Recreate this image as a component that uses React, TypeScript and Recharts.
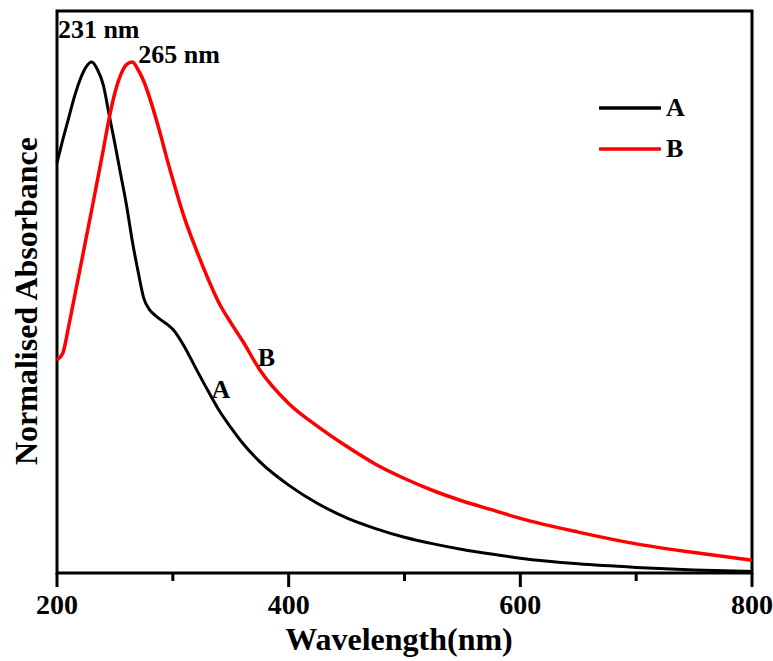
import React from 'react'
import {
  LineChart, Line, XAxis, YAxis, ReferenceArea, ReferenceDot, Legend,
} from 'recharts'

// wavelength grid (nm) shared by both spectra
const wavelengths = [
  200, 205, 210, 215, 220, 225, 230, 235, 240, 245, 250, 255, 260, 265, 270, 275, 280, 285, 290, 295, 300,
  310, 320, 330, 340, 350, 360, 375, 400, 425, 450, 475, 500, 525, 550, 575, 600, 650, 700, 750, 800,
]

const absA = [
  0.803, 0.848, 0.89, 0.932, 0.966, 0.99, 1.0, 0.985, 0.955, 0.897, 0.84, 0.78, 0.72, 0.65, 0.59, 0.537, 0.515, 0.504, 0.495, 0.487, 0.477,
  0.443, 0.4, 0.358, 0.318, 0.285, 0.255, 0.218, 0.172, 0.136, 0.108, 0.087, 0.07, 0.057, 0.046, 0.037, 0.029, 0.018, 0.011, 0.006, 0.003,
]

const absB = [
  0.417, 0.43, 0.482, 0.539, 0.596, 0.654, 0.711, 0.77, 0.829, 0.89, 0.94, 0.975, 0.995, 1.0, 0.985, 0.962, 0.93, 0.893, 0.853, 0.81, 0.77,
  0.695, 0.634, 0.578, 0.528, 0.49, 0.455, 0.398, 0.332, 0.287, 0.248, 0.213, 0.185, 0.161, 0.141, 0.124, 0.107, 0.08, 0.057, 0.04, 0.025,
]

const xTicks = [200, 300, 400, 500, 600, 700, 800]
const majorTicks = [200, 400, 600, 800]
const peaks = [
  { nm: 231, text: '231 nm', dx: -35, dy: -24 },
  { nm: 265, text: '265 nm', dx: 6, dy: 1 },
]

const Y_MAX = 1.1
const FONT = '"Liberation Serif", "Times New Roman", serif'

const data = wavelengths.map((nm, i) => ({ nm, A: absA[i], B: absB[i] }))

const WaveTick = (props: any) => {
  const { x, y, payload } = props
  const major = majorTicks.includes(payload.value)
  return (
    <g>
      <line x1={x} x2={x} y1={y} y2={y + (major ? 14 : 8)} stroke="#000" strokeWidth={3} />
      {major && (
        <text x={x} y={y + 41} textAnchor="middle" fontFamily={FONT} fontWeight="bold" fontSize={28} fill="#000">
          {payload.value}
        </text>
      )}
    </g>
  )
}

const textAt = (text: string, dx: number, dy: number, size = 26) => (props: any) => {
  const vb = props.viewBox || {}
  const cx = (vb.x ?? 0) + (vb.width ?? 0) / 2
  const cy = (vb.y ?? 0) + (vb.height ?? 0) / 2
  return (
    <text x={cx + dx} y={cy + dy} fontFamily={FONT} fontWeight="bold" fontSize={size} fill="#000">
      {text}
    </text>
  )
}

const LegendBox = () => (
  <div style={{ fontFamily: FONT, fontWeight: 'bold', fontSize: 26, color: '#000' }}>
    {[
      { name: 'A', color: '#000' },
      { name: 'B', color: '#ff0000' },
    ].map((s) => (
      <div key={s.name} style={{ display: 'flex', alignItems: 'center', height: 41 }}>
        <svg width={62} height={6} style={{ display: 'block' }}>
          <line x1={1} x2={61} y1={3} y2={3} stroke={s.color} strokeWidth={3.5} strokeLinecap="round" />
        </svg>
        <span style={{ marginLeft: 5, lineHeight: '26px' }}>{s.name}</span>
      </div>
    ))}
  </div>
)

export default function App() {
  const idxA = wavelengths.indexOf(330)
  const idxB = wavelengths.indexOf(375)
  return (
    <div style={{ position: 'absolute', left: 0, top: 0, background: '#fff' }}>
      <LineChart width={773} height={661} data={data} margin={{ top: 11, right: 21, bottom: 0, left: 0 }}>
        <XAxis
          dataKey="nm"
          type="number"
          domain={[200, 800]}
          ticks={xTicks}
          interval={0}
          height={88}
          axisLine={false}
          tickLine={false}
          tickSize={0}
          tickMargin={0}
          tick={<WaveTick />}
          label={{
            content: () => (
              <text x={399} y={650} textAnchor="middle" fontFamily={FONT} fontWeight="bold" fontSize={32} fill="#000">
                Wavelength(nm)
              </text>
            ),
          }}
        />
        <YAxis
          type="number"
          domain={[0, Y_MAX]}
          width={57}
          tick={false}
          tickLine={false}
          axisLine={false}
          label={{
            content: () => (
              <text
                transform="translate(26,301) rotate(-90)"
                textAnchor="middle"
                dominantBaseline="central"
                fontFamily={FONT}
                fontWeight="bold"
                fontSize={32}
                fill="#000"
              >
                Normalised Absorbance
              </text>
            ),
          }}
        />
        <Line type="monotone" dataKey="A" stroke="#000" strokeWidth={3} dot={false} isAnimationActive={false} />
        <Line type="monotone" dataKey="B" stroke="#ff0000" strokeWidth={3.5} dot={false} isAnimationActive={false} />
        <ReferenceArea x1={200} x2={800} y1={0} y2={Y_MAX} fill="none" stroke="#000" strokeWidth={3} ifOverflow="visible" />
        {peaks.map((p) => (
          <ReferenceDot
            key={p.text}
            x={p.nm}
            y={1}
            r={0}
            fill="none"
            stroke="none"
            ifOverflow="visible"
            label={{ content: textAt(p.text, p.dx, p.dy) }}
          />
        ))}
        <ReferenceDot x={330} y={absA[idxA]} r={0} fill="none" stroke="none" label={{ content: textAt('A', 4, 8) }} />
        <ReferenceDot x={375} y={absB[idxB]} r={0} fill="none" stroke="none" label={{ content: textAt('B', -2, -4) }} />
        <Legend
          layout="vertical"
          align="center"
          verticalAlign="middle"
          content={<LegendBox />}
          wrapperStyle={{ position: 'absolute', left: 599, top: 87, width: 120, height: 82 }}
        />
      </LineChart>
    </div>
  )
}
